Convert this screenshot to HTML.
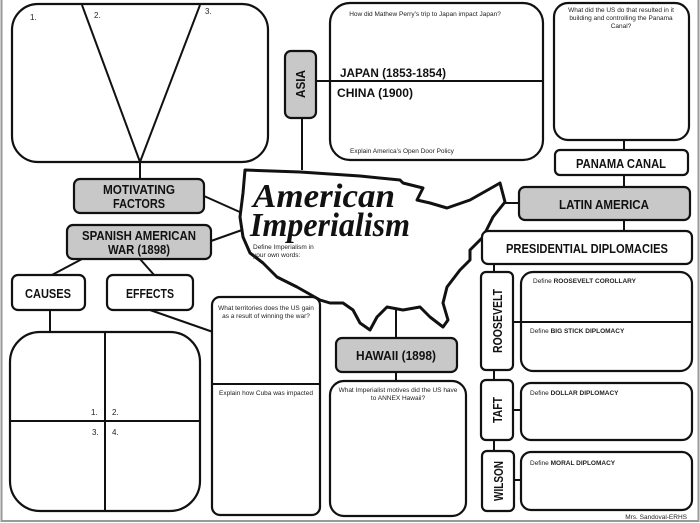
<!DOCTYPE html>
<html><head><meta charset="utf-8"><style>
html,body{margin:0;padding:0;background:#fff;}
svg{display:block;}
.h{font-family:"Liberation Sans",sans-serif;font-weight:bold;font-size:13px;fill:#111;text-anchor:middle;}
.s{font-family:"Liberation Sans",sans-serif;font-size:6.5px;fill:#222;}
.b{stroke:#111;stroke-width:2.2;fill:#fff;}
.g{stroke:#111;stroke-width:2.2;fill:#c8c8c8;}
.l{stroke:#111;stroke-width:2;fill:none;}
</style></head><body>
<svg width="700" height="523" viewBox="0 0 700 523" xmlns="http://www.w3.org/2000/svg">
<rect x="1.5" y="-2" width="697" height="523" fill="none" stroke="#999" stroke-width="2"/>
<!-- connectors -->
<line class="l" x1="140" y1="162" x2="140" y2="180"/>
<line class="l" x1="204" y1="196" x2="242" y2="213"/>
<line class="l" x1="211" y1="241" x2="242" y2="230"/>
<line class="l" x1="82" y1="259" x2="50" y2="276"/>
<line class="l" x1="140" y1="259" x2="155" y2="276"/>
<line class="l" x1="50" y1="310" x2="50" y2="333"/>
<line class="l" x1="150" y1="310" x2="213" y2="332"/>
<line class="l" x1="302" y1="118" x2="302" y2="170"/>
<line class="l" x1="396" y1="300" x2="396" y2="382"/>
<line class="l" x1="624" y1="140" x2="624" y2="188"/>
<line class="l" x1="624" y1="220" x2="624" y2="231"/>
<line class="l" x1="505" y1="203" x2="520" y2="203"/>
<line class="l" x1="494" y1="263" x2="494" y2="452"/>
<line class="l" x1="513" y1="322" x2="522" y2="322"/>
<line class="l" x1="513" y1="410" x2="522" y2="410"/>
<line class="l" x1="513" y1="480" x2="522" y2="480"/>
<!-- top-left box -->
<rect class="b" x="12" y="4" width="256" height="158" rx="26"/>
<line class="l" x1="82" y1="5" x2="140" y2="162"/>
<line class="l" x1="200" y1="5" x2="140" y2="162"/>
<text class="s" x="30" y="20" style="font-size:8px">1.</text>
<text class="s" x="94" y="18" style="font-size:8px">2.</text>
<text class="s" x="205" y="14" style="font-size:8px">3.</text>
<!-- left headers -->
<rect class="g" x="74" y="179" width="130" height="34" rx="6"/>
<text class="h" x="139" y="194" textLength="72" lengthAdjust="spacingAndGlyphs">MOTIVATING</text>
<text class="h" x="139" y="208" textLength="52" lengthAdjust="spacingAndGlyphs">FACTORS</text>
<rect class="g" x="67" y="225" width="144" height="34" rx="6"/>
<text class="h" x="139" y="240" textLength="114" lengthAdjust="spacingAndGlyphs">SPANISH AMERICAN</text>
<text class="h" x="139" y="254" textLength="62" lengthAdjust="spacingAndGlyphs">WAR (1898)</text>
<rect class="b" x="12" y="275" width="73" height="35" rx="6"/>
<text class="h" x="48" y="298" textLength="46" lengthAdjust="spacingAndGlyphs">CAUSES</text>
<rect class="b" x="107" y="275" width="86" height="35" rx="6"/>
<text class="h" x="150" y="298" textLength="48" lengthAdjust="spacingAndGlyphs">EFFECTS</text>
<!-- bottom-left grid -->
<rect class="b" x="10" y="332" width="190" height="179" rx="30"/>
<line class="l" x1="105" y1="332" x2="105" y2="511"/>
<line class="l" x1="10" y1="421" x2="200" y2="421"/>
<text class="s" x="91" y="415" style="font-size:8px">1.</text>
<text class="s" x="112" y="415" style="font-size:8px">2.</text>
<text class="s" x="92" y="435" style="font-size:8px">3.</text>
<text class="s" x="112" y="435" style="font-size:8px">4.</text>
<!-- territory box -->
<rect class="b" x="212" y="297" width="108" height="218" rx="8"/>
<line class="l" x1="212" y1="384" x2="320" y2="384"/>
<text class="s" x="266" y="310" text-anchor="middle">What territories does the US gain</text>
<text class="s" x="266" y="318" text-anchor="middle">as a result of winning the war?</text>
<text class="s" x="266" y="395" text-anchor="middle">Explain how Cuba was impacted</text>
<!-- map -->
<polygon points="245,170 300,172 360,176 400,180 403,183 423,188 417,200 430,203 447,208 470,200 493,187 500,183 505,202 493,217 483,237 470,250 470,260 460,270 447,287 443,303 448,320 443,327 430,317 420,307 403,310 387,307 377,317 370,330 360,323 353,310 343,303 330,303 320,300 297,287 277,277 263,263 250,253 243,237 240,217 243,193" fill="#fff" stroke="#111" stroke-width="3" stroke-linejoin="round"/>
<text x="253" y="207" font-family="Liberation Serif,serif" font-style="italic" font-weight="bold" font-size="34" fill="#111" textLength="142" lengthAdjust="spacingAndGlyphs">American</text>
<text x="250" y="236" font-family="Liberation Serif,serif" font-style="italic" font-weight="bold" font-size="34" fill="#111" textLength="160" lengthAdjust="spacingAndGlyphs">Imperialism</text>
<text class="s" x="253" y="249">Define Imperialism in</text>
<text class="s" x="253" y="257">your own words:</text>
<!-- Asia -->
<rect class="g" x="285" y="51" width="31" height="67" rx="6"/>
<text class="h" transform="translate(305,84) rotate(-90)" textLength="28" lengthAdjust="spacingAndGlyphs">ASIA</text>
<rect class="b" x="330" y="3" width="213" height="157" rx="20"/>
<line class="l" x1="316" y1="81" x2="543" y2="81"/>
<text class="s" x="425" y="16" text-anchor="middle">How did Mathew Perry’s trip to Japan impact Japan?</text>
<text x="340" y="77" font-family="Liberation Sans,sans-serif" font-weight="bold" font-size="12" fill="#111" textLength="106" lengthAdjust="spacingAndGlyphs">JAPAN (1853-1854)</text>
<text x="337" y="97" font-family="Liberation Sans,sans-serif" font-weight="bold" font-size="12" fill="#111" textLength="76" lengthAdjust="spacingAndGlyphs">CHINA (1900)</text>
<text class="s" x="350" y="153">Explain America’s Open Door Policy</text>
<!-- Panama -->
<rect class="b" x="554" y="3" width="135" height="137" rx="14"/>
<text class="s" x="621" y="12" text-anchor="middle">What did the US do that resulted in it</text>
<text class="s" x="621" y="20" text-anchor="middle">building and controlling the Panama</text>
<text class="s" x="621" y="28" text-anchor="middle">Canal?</text>
<rect class="b" x="555" y="150" width="133" height="25" rx="5"/>
<text class="h" x="621" y="168" textLength="90" lengthAdjust="spacingAndGlyphs">PANAMA CANAL</text>
<rect class="g" x="519" y="187" width="171" height="33" rx="6"/>
<text class="h" x="604" y="209" textLength="90" lengthAdjust="spacingAndGlyphs">LATIN AMERICA</text>
<rect class="b" x="482" y="231" width="210" height="33" rx="6"/>
<text class="h" x="587" y="253" textLength="162" lengthAdjust="spacingAndGlyphs">PRESIDENTIAL DIPLOMACIES</text>
<!-- presidents -->
<rect class="b" x="481" y="272" width="32" height="98" rx="5"/>
<text class="h" transform="translate(502,321) rotate(-90)" textLength="64" lengthAdjust="spacingAndGlyphs">ROOSEVELT</text>
<rect class="b" x="521" y="272" width="171" height="99" rx="12"/>
<line class="l" x1="521" y1="322" x2="692" y2="322"/>
<text class="s" x="533" y="283">Define <tspan font-weight="bold">ROOSEVELT COROLLARY</tspan></text>
<text class="s" x="530" y="333">Define <tspan font-weight="bold">BIG STICK DIPLOMACY</tspan></text>
<rect class="b" x="481" y="380" width="32" height="60" rx="5"/>
<text class="h" transform="translate(502,410) rotate(-90)" textLength="26" lengthAdjust="spacingAndGlyphs">TAFT</text>
<rect class="b" x="521" y="383" width="171" height="57" rx="10"/>
<text class="s" x="530" y="395">Define <tspan font-weight="bold">DOLLAR DIPLOMACY</tspan></text>
<rect class="b" x="482" y="451" width="32" height="60" rx="5"/>
<text class="h" transform="translate(503,481) rotate(-90)" textLength="40" lengthAdjust="spacingAndGlyphs">WILSON</text>
<rect class="b" x="521" y="452" width="171" height="58" rx="10"/>
<text class="s" x="530" y="465">Define <tspan font-weight="bold">MORAL DIPLOMACY</tspan></text>
<text class="s" x="687" y="519" text-anchor="end">Mrs. Sandoval-ERHS</text>
<!-- Hawaii -->
<rect class="g" x="336" y="338" width="121" height="34" rx="6"/>
<text class="h" x="396" y="360" textLength="80" lengthAdjust="spacingAndGlyphs">HAWAII (1898)</text>
<rect class="b" x="330" y="381" width="136" height="135" rx="14"/>
<text class="s" x="398" y="392" text-anchor="middle">What Imperialist motives did the US have</text>
<text class="s" x="398" y="400" text-anchor="middle">to ANNEX Hawaii?</text>
</svg>
</body></html>
